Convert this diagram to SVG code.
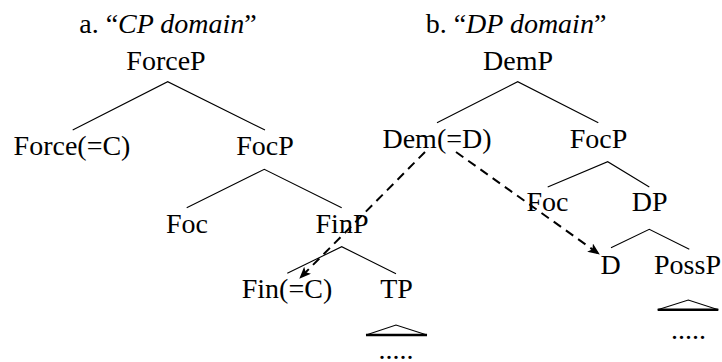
<svg xmlns="http://www.w3.org/2000/svg" width="722" height="362" viewBox="0 0 722 362">
<style>
text{font-family:"Liberation Serif","Times New Roman",serif;font-size:28px;fill:#000;text-anchor:middle}
.e{stroke:#000;stroke-width:1.1;fill:none}
.tri{stroke:#000;stroke-width:1.1;fill:none}
.base{stroke:#000;stroke-width:2.6}
.mv{stroke:#000;stroke-width:2;fill:none;stroke-dasharray:9,6}
</style>
<defs>
<marker id="ah" viewBox="0 0 12 10" refX="11" refY="5" markerWidth="12" markerHeight="10" markerUnits="userSpaceOnUse" orient="auto">
<path d="M0,0 L12,5 L0,10 L3,5 z" fill="#000"/>
</marker>
</defs>
<rect width="722" height="362" fill="#fff"/>
<g id="titleA"><text x="168" y="33">a. “<tspan font-style="italic">CP domain</tspan>”</text></g>
<g id="titleB"><text x="516" y="33">b. “<tspan font-style="italic">DP domain</tspan>”</text></g>
<g id="connectors">
<path class="e" d="M72.7,130 L167.7,81.7 L265,130"/>
<path class="e" d="M186.7,207.7 L264.3,169.3 L341.7,207.7"/>
<path class="e" d="M287.3,273.3 L341.7,246.7 L396,273.7"/>
<path class="tri" d="M366,335 L396,325 L427,335"/>
<line class="base" x1="366" y1="335" x2="427" y2="335"/>
<path class="e" d="M437,122.7 L517.7,81.7 L598.3,122.7"/>
<path class="e" d="M547.7,187 L607.7,161.7 L649.3,187"/>
<path class="e" d="M611,247.7 L649.3,229.3 L689.3,249.3"/>
<path class="tri" d="M657.7,309.7 L688.3,300 L718.3,309.7"/>
<line class="base" x1="657.7" y1="309.7" x2="718.3" y2="309.7"/>
<line class="mv" x1="425" y1="152" x2="300" y2="278" marker-end="url(#ah)"/>
<line class="mv" x1="456" y1="152" x2="599" y2="254" marker-end="url(#ah)"/>
</g>
<g id="ForceP"><text x="166" y="70">ForceP</text></g>
<g id="ForceC"><text x="72" y="155">Force(=C)</text></g>
<g id="FocPa"><text x="265" y="155">FocP</text></g>
<g id="FocA"><text x="187" y="233">Foc</text></g>
<g id="FinP"><text x="342" y="233">FinP</text></g>
<g id="FinC"><text x="287" y="298">Fin(=C)</text></g>
<g id="TP"><text x="396.5" y="298">TP</text></g>
<g id="TPdots"><text x="396" y="359">.....</text></g>
<g id="DemP"><text x="518" y="70">DemP</text></g>
<g id="DemD"><text x="437" y="148">Dem(=D)</text></g>
<g id="FocPb"><text x="598.5" y="148">FocP</text></g>
<g id="FocB"><text x="547.5" y="211">Foc</text></g>
<g id="DP"><text x="649.7" y="211">DP</text></g>
<g id="D"><text x="610.7" y="274">D</text></g>
<g id="PossP"><text x="687.5" y="274">PossP</text></g>
<g id="PossPdots"><text x="688.5" y="339">.....</text></g>
</svg>
